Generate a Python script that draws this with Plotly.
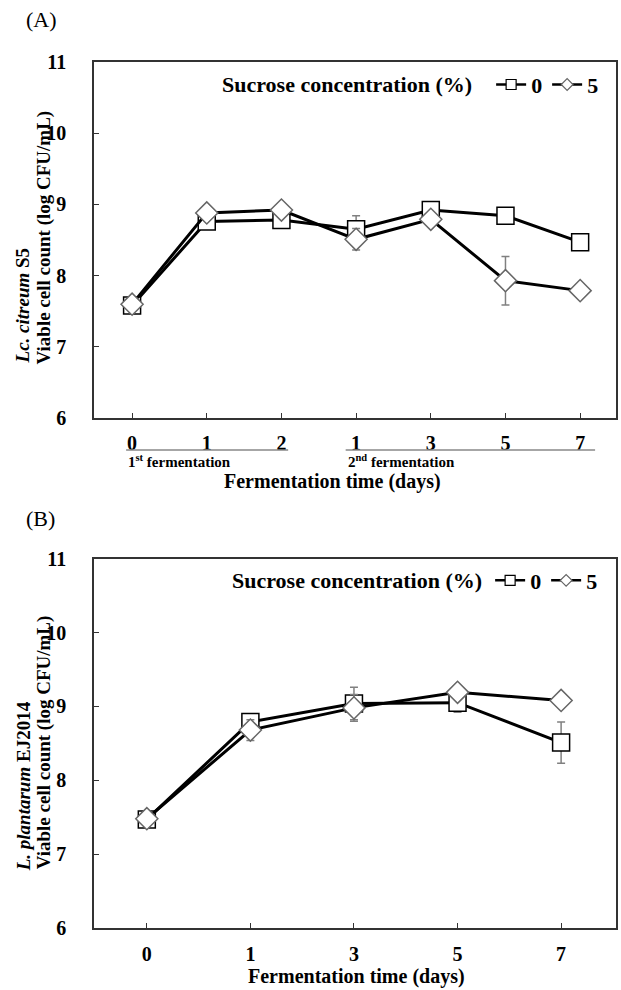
import plotly.graph_objects as go

# ---------------- data ----------------
# Panel A (Lc. citreum S5)
a_ticktext = ["0", "1", "2", "1", "3", "5", "7"]
a_pos = [0, 1, 2, 3, 4, 5, 6]
a_sq = [7.58, 8.76, 8.78, 8.65, 8.92, 8.84, 8.47]
a_sq_err = [0.03, 0.05, 0.05, 0.19, 0.04, 0.04, 0.04]
a_di = [7.60, 8.88, 8.92, 8.51, 8.79, 7.93, 7.79]
a_di_err = [0.03, 0.04, 0.04, 0.15, 0.04, 0.34, 0.08]

# Panel B (L. plantarum EJ2014)
b_ticktext = ["0", "1", "3", "5", "7"]
b_pos = [0, 1, 2, 3, 4]
b_sq = [7.47, 8.79, 9.04, 9.05, 8.51]
b_sq_err = [0.03, 0.05, 0.22, 0.13, 0.28]
b_di = [7.48, 8.68, 8.98, 9.19, 9.08]
b_di_err = [0.03, 0.14, 0.18, 0.05, 0.05]

series_names = ["0", "5"]
legend_title = "Sucrose concentration (%)"

W, H = 621, 990
FONT = "Liberation Serif, Times New Roman, serif"
GRAY_ERR = "#808080"

# the captured picture shows the page slightly shifted/compressed vertically;
# target pixel positions are mapped back through that observed transform
Y_SCALE, Y_OFF = 0.982, 11.0

def px_x(p):
    return p / W

def px_y(p):
    return 1 - ((p - Y_OFF) / Y_SCALE) / H

fig = go.Figure()

def add_panel(xa, ya, pos, sq, sq_err, di, di_err, legend):
    fig.add_trace(go.Scatter(
        x=pos, y=sq, mode="lines+markers", xaxis=xa, yaxis=ya, showlegend=False,
        line=dict(color="black", width=3),
        marker=dict(symbol="square", size=17, color="white",
                    line=dict(color="black", width=1.5)),
        error_y=dict(type="data", array=sq_err, color=GRAY_ERR, thickness=1.5, width=4),
    ))
    fig.add_trace(go.Scatter(
        x=pos, y=di, mode="lines+markers", xaxis=xa, yaxis=ya, showlegend=False,
        line=dict(color="black", width=3),
        marker=dict(symbol="diamond", size=17, color="white",
                    line=dict(color="#666666", width=1.5)),
        error_y=dict(type="data", array=di_err, color=GRAY_ERR, thickness=1.5, width=4),
    ))
    # legend entries
    fig.add_trace(go.Scatter(
        x=[None], y=[None], mode="lines+markers", xaxis=xa, yaxis=ya,
        name=series_names[0], legend=legend,
        line=dict(color="black", width=2.5),
        marker=dict(symbol="square", size=10, color="white",
                    line=dict(color="black", width=1.2)),
    ))
    fig.add_trace(go.Scatter(
        x=[None], y=[None], mode="lines+markers", xaxis=xa, yaxis=ya,
        name=series_names[1], legend=legend,
        line=dict(color="black", width=2.5),
        marker=dict(symbol="diamond", size=9, color="white",
                    line=dict(color="#666666", width=1.2)),
    ))

add_panel("x", "y", a_pos, a_sq, a_sq_err, a_di, a_di_err, "legend")
add_panel("x2", "y2", b_pos, b_sq, b_sq_err, b_di, b_di_err, "legend2")

tickfont = dict(family=FONT, size=20, color="black", weight="bold")
xdom = [px_x(94), px_x(616)]
common_axis = dict(showline=True, mirror=True, linecolor="#333333", linewidth=1.5,
                   ticks="inside", ticklen=5, tickcolor="#333333", tickwidth=1,
                   showgrid=False, zeroline=False, tickfont=tickfont)

legfont = dict(family=FONT, size=22, weight="bold", color="black")
fig.update_layout(
    width=W, height=H,
    margin=dict(l=0, r=0, t=0, b=0),
    paper_bgcolor="white", plot_bgcolor="white",
    xaxis=dict(domain=xdom, range=[-0.51, 6.48], tickvals=a_pos, ticktext=a_ticktext,
               anchor="y", ticklabelstandoff=6, **common_axis),
    yaxis=dict(domain=[px_y(420), px_y(62)], range=[6, 11], dtick=1, tick0=6,
               anchor="x", ticklabelstandoff=22, **common_axis),
    xaxis2=dict(domain=xdom, range=[-0.51, 4.53], tickvals=b_pos, ticktext=b_ticktext,
                anchor="y2", ticklabelstandoff=7, **common_axis),
    yaxis2=dict(domain=[px_y(932), px_y(561)], range=[6, 11], dtick=1, tick0=6,
                anchor="x2", ticklabelstandoff=22, **common_axis),
    legend=dict(orientation="h", x=px_x(220), xanchor="left", y=px_y(85), yanchor="middle",
                title=dict(text=legend_title + "&nbsp;&nbsp;", side="left", font=legfont),
                font=legfont, bgcolor="rgba(0,0,0,0)", itemwidth=30, tracegroupgap=0),
    legend2=dict(orientation="h", x=px_x(230), xanchor="left", y=px_y(583), yanchor="middle",
                 title=dict(text=legend_title, side="left", font=legfont),
                 font=legfont, bgcolor="rgba(0,0,0,0)", itemwidth=30, tracegroupgap=0),
)

bold20 = dict(family=FONT, size=20, color="black", weight="bold")
bold19 = dict(family=FONT, size=19, color="black", weight="bold")
sub = dict(family=FONT, size=15, color="black", weight="bold")
annotations = [
    dict(text="(A)", x=px_x(24), y=px_y(20), xanchor="left", yanchor="middle",
         font=dict(family=FONT, size=22, color="black")),
    dict(text="(B)", x=px_x(24), y=px_y(521), xanchor="left", yanchor="middle",
         font=dict(family=FONT, size=22, color="black")),
    dict(text="<i>Lc. citreum</i> S5", textangle=-90,
         x=px_x(22), y=px_y(367), xanchor="center", yanchor="bottom", font=bold19),
    dict(text="Viable cell count (log CFU/mL)", textangle=-90,
         x=px_x(44), y=px_y(368), xanchor="center", yanchor="bottom", font=bold19),
    dict(text="<i>L. plantarum</i> EJ2014", textangle=-90,
         x=px_x(23), y=px_y(877), xanchor="center", yanchor="bottom", font=bold19),
    dict(text="Viable cell count (log CFU/mL)", textangle=-90,
         x=px_x(44), y=px_y(875), xanchor="center", yanchor="bottom", font=bold19),
    dict(text="Fermentation time (days)", x=px_x(332), y=px_y(484),
         xanchor="center", yanchor="middle", font=bold20),
    dict(text="Fermentation time (days)", x=px_x(356), y=px_y(981),
         xanchor="center", yanchor="middle", font=bold20),
    dict(text="1<sup>st</sup> fermentation", xref="x", x=-0.08, y=px_y(463),
         xanchor="left", yanchor="middle", font=sub),
    dict(text="2<sup>nd</sup> fermentation", xref="x", x=2.86, y=px_y(463),
         xanchor="left", yanchor="middle", font=sub),
]
for a in annotations:
    a.setdefault("xref", "paper")
    a.setdefault("yref", "paper")
    a["showarrow"] = False
fig.update_layout(annotations=annotations)

fig.add_shape(type="line", xref="x", yref="paper", x0=-0.08, x1=2.09,
              y0=px_y(452), y1=px_y(452), line=dict(color="#888888", width=1.5))
fig.add_shape(type="line", xref="x", yref="paper", x0=2.86, x1=6.2,
              y0=px_y(452), y1=px_y(452), line=dict(color="#888888", width=1.5))

post = (
    "document.documentElement.style.cssText='margin:0;padding:0;overflow:hidden;';"
    "document.body.style.cssText='margin:0;padding:0;';"
)
fig.write_html("out.html", config={"displayModeBar": False}, post_script=post)
